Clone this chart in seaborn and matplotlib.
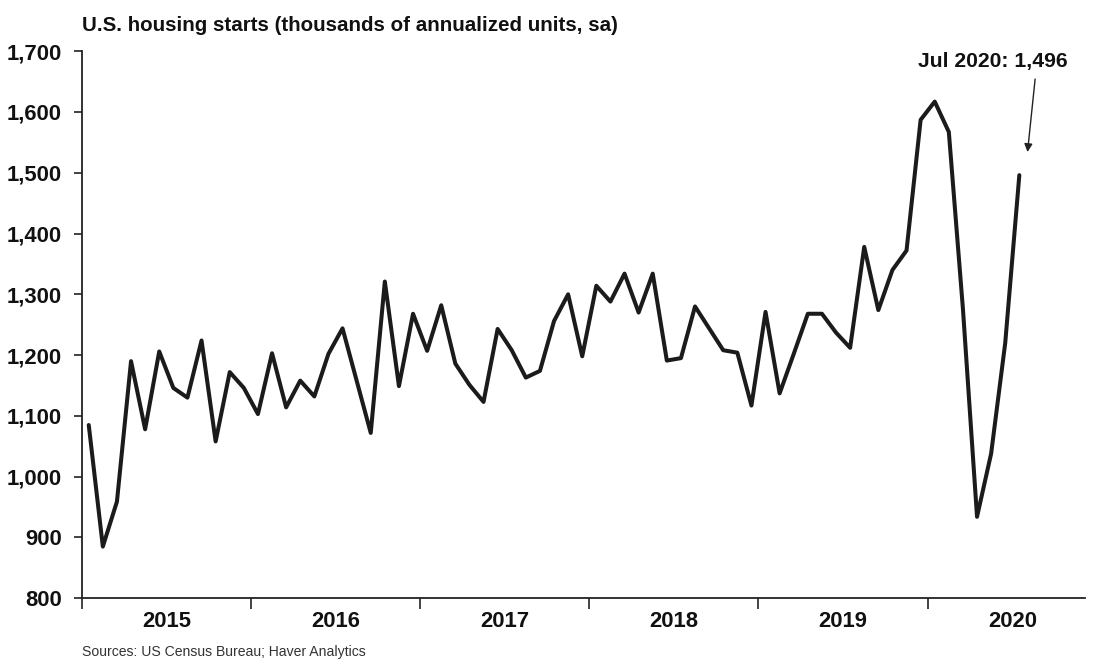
import numpy as np
import pandas as pd
import matplotlib
matplotlib.use("Agg")
import matplotlib.pyplot as plt
import seaborn as sns
from matplotlib.ticker import FuncFormatter, FixedLocator

# ---- data (thousands of annualized units, sa), Jan 2015 .. Jul 2020 ----
start_year = 2015
starts = [1085, 885, 959, 1190, 1078, 1206, 1146, 1130, 1224, 1058, 1172, 1146,
          1103, 1203, 1114, 1158, 1132, 1202, 1244, 1158, 1072, 1321, 1149, 1268,
          1207, 1282, 1186, 1151, 1123, 1243, 1208, 1163, 1174, 1256, 1300, 1198,
          1314, 1288, 1334, 1270, 1334, 1191, 1195, 1280, 1244, 1208, 1204, 1117,
          1271, 1137, 1202, 1268, 1268, 1237, 1212, 1378, 1274, 1340, 1372, 1587,
          1617, 1567, 1276, 934, 1038, 1220, 1496]
year_labels = ["2015", "2016", "2017", "2018", "2019", "2020"]
y_ticks = [800, 900, 1000, 1100, 1200, 1300, 1400, 1500, 1600, 1700]
title = "U.S. housing starts (thousands of annualized units, sa)"
source = "Sources: US Census Bureau; Haver Analytics"
annot = "Jul 2020: 1,496"

sns.set_theme(style="white")
plt.rcParams['font.family'] = ['Liberation Sans', 'DejaVu Sans']

months = pd.date_range(f"{start_year}-01-01", periods=len(starts), freq="MS")
df = pd.DataFrame({
    "t": months.year + (months.month - 0.5) / 12.0,
    "starts": starts,
})

fig = plt.figure(figsize=(10.95, 6.64), dpi=100)
ax = fig.add_axes([0.0746, 0.099, 0.9163, 0.824])

sns.lineplot(data=df, x="t", y="starts", ax=ax, color="#1b1b1b", linewidth=2.9)

ax.set_xlim(2015.0, 2020.93)
ax.set_ylim(800, 1700)
ax.set_xlabel("")
ax.set_ylabel("")

ax.yaxis.set_major_locator(FixedLocator(y_ticks))
ax.yaxis.set_major_formatter(FuncFormatter(lambda v, p: f"{int(v):,}"))

yrs = [int(y) for y in year_labels]
ax.xaxis.set_major_locator(FixedLocator(yrs))
ax.xaxis.set_major_formatter(FuncFormatter(lambda v, p: ""))
ax.xaxis.set_minor_locator(FixedLocator([y + 0.5 for y in yrs]))
ax.set_xticklabels(year_labels, minor=True)

ax.tick_params(axis="x", which="major", direction="out", length=8, width=1.2,
               color="#222222", bottom=True)
ax.tick_params(axis="x", which="minor", length=0, pad=9, labelsize=15.8,
               labelcolor="#111111")
ax.tick_params(axis="y", which="major", direction="out", length=6, width=1.2,
               color="#222222", left=True, labelsize=15.8, labelcolor="#111111", pad=8.5)
for lab in ax.get_xticklabels(minor=True) + ax.get_yticklabels():
    lab.set_fontweight("bold")

sns.despine(ax=ax)
for s in ["left", "bottom"]:
    ax.spines[s].set_color("#222222")
    ax.spines[s].set_linewidth(1.3)

fig.text(0.0746, 0.962, title, fontsize=14.8, fontweight="bold", color="#111111",
         ha="left", va="center")
fig.text(0.0746, 0.018, source, fontsize=10.1, color="#333333", ha="left", va="center")

# annotation for the last point
ax.text(2020.385, 1683, annot, ha="center", va="center", fontsize=15.2,
        fontweight="bold", color="#111111")
ax.annotate("", xy=(2020.59, 1534), xytext=(2020.635, 1654),
            arrowprops=dict(arrowstyle="-|>", color="#222222", lw=1.0,
                            mutation_scale=12, shrinkA=0, shrinkB=0))

fig.savefig("out.png", dpi=100, facecolor="white")
